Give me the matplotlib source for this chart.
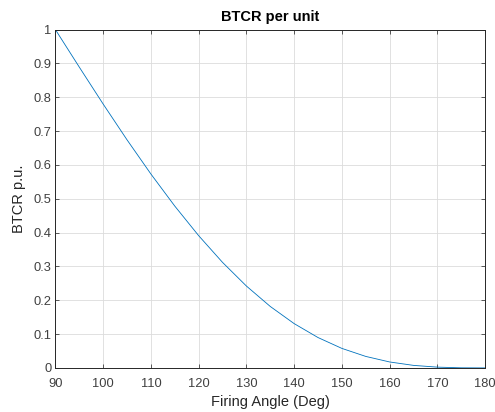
import matplotlib
matplotlib.use("Agg")
import matplotlib.pyplot as plt

angle_deg = [90, 95, 100, 105, 110, 115, 120, 125, 130, 135, 140, 145,
             150, 155, 160, 165, 170, 175, 180]
btcr_pu = [1.0, 0.8892, 0.7800, 0.6742, 0.5732, 0.4784, 0.3910, 0.3120,
           0.2421, 0.1817, 0.1310, 0.0898, 0.0577, 0.0340, 0.0176, 0.0075,
           0.0023, 0.0003, 0.0]
x_ticks = [90, 100, 110, 120, 130, 140, 150, 160, 170, 180]
y_ticks = [0, 0.1, 0.2, 0.3, 0.4, 0.5, 0.6, 0.7, 0.8, 0.9, 1]
y_tick_labels = ["0", "0.1", "0.2", "0.3", "0.4", "0.5", "0.6", "0.7", "0.8", "0.9", "1"]

plt.rcParams['font.family'] = ['Liberation Sans', 'DejaVu Sans']

fig = plt.figure(figsize=(4.95, 4.12), dpi=100)
ax = fig.add_axes([0.112, 0.107, 0.868, 0.821])
ax.plot(angle_deg, btcr_pu, color='#0072BD', linewidth=0.6)
ax.set_xlim(90, 180)
ax.set_ylim(0, 1)
ax.set_xticks(x_ticks)
ax.set_yticks(y_ticks)
ax.set_yticklabels(y_tick_labels)
ax.grid(True, color='#dcdcdc', linewidth=0.6)
ax.set_axisbelow(True)
ax.tick_params(direction='in', top=True, right=True, length=3, width=0.6,
               labelsize=9.3, colors='#404040', pad=3)
ax.tick_params(axis='x', pad=7)
for s in ax.spines.values():
    s.set_color('#262626')
    s.set_linewidth(0.7)
ax.set_xlabel('Firing Angle (Deg)', fontsize=10.5, color='#262626', labelpad=4)
ax.set_ylabel('BTCR p.u.', fontsize=10.5, color='#262626', labelpad=5)
ax.set_title('BTCR per unit', fontsize=10.5, fontweight='bold', color='black', pad=6)
fig.savefig('out.png', dpi=100)
